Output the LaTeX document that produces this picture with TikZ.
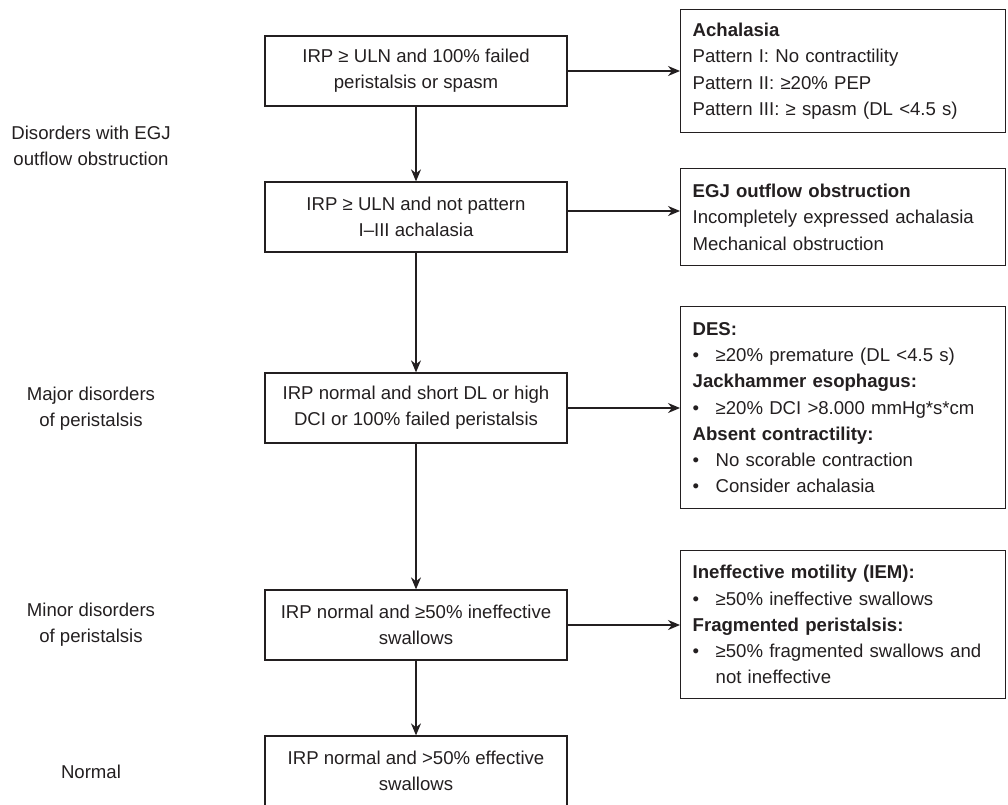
\documentclass[tikz,border=0pt]{standalone}
\usepackage{fontspec}
\setmainfont{Liberation Sans}
\usetikzlibrary{arrows.meta}
\definecolor{ink}{HTML}{231F20}
\newcommand{\bul}{\makebox[23pt][l]{•}}
\begin{document}
\begin{tikzpicture}[x=1pt,y=-1pt,
  every node/.style={text=ink, font=\fontsize{18.6}{26.3}\selectfont},
  lbox/.style={draw=ink, line width=1.3pt, minimum width=302pt, minimum height=70pt, align=center, inner sep=0pt},
  rbox/.style={draw=ink, line width=1.3pt, anchor=north west, minimum width=325pt, text width=301pt, inner xsep=12pt, inner ysep=0pt, align=left},
  lab/.style={align=center, inner sep=0pt},
  arr/.style={draw=ink, line width=1.3pt, -{Stealth[length=12pt,width=10pt]}}]
\clip (0,0) rectangle (1008,804);
% left labels
\node[lab] (t1) at (91,145.5) {Disorders with EGJ\\outflow obstruction};
\node[lab] (t2) at (91,408.5) {Major disorders\\of peristalsis};
\node[lab] (t3) at (91,625) {Minor disorders\\of peristalsis};
\node[lab] (t4) at (91,772) {Normal};
% left boxes
\node[lbox] (l1) at (416,71) {IRP ≥ ULN and 100\% failed\\peristalsis or spasm};
\node[lbox] (l2) at (416,217) {IRP ≥ ULN and not pattern\\I–III achalasia};
\node[lbox] (l3) at (416,408) {IRP normal and short DL or high\\DCI or 100\% failed peristalsis};
\node[lbox] (l4) at (416,625) {IRP normal and ≥50\% ineffective\\swallows};
\node[lbox] (l5) at (416,771) {IRP normal and >50\% effective\\swallows};
% right boxes
\node[rbox, minimum height=123pt] (r1) at (680,9) {\textbf{Achalasia}\\Pattern I: No contractility\\Pattern II: ≥20\% PEP\\Pattern III: ≥ spasm (DL <4.5 s)};
\node[rbox, minimum height=97pt] (r2) at (680,168) {\textbf{EGJ outflow obstruction}\\Incompletely expressed achalasia\\Mechanical obstruction};
\node[rbox, minimum height=202pt] (r3) at (680,306) {\textbf{DES:}\\\bul≥20\% premature (DL <4.5 s)\\\textbf{Jackhammer esophagus:}\\\bul≥20\% DCI >8.000 mmHg*s*cm\\\textbf{Absent contractility:}\\\bul No scorable contraction\\\bul Consider achalasia};
\node[rbox, minimum height=148pt] (r4) at (680,550) {\textbf{Ineffective motility (IEM):}\\\bul≥50\% ineffective swallows\\\textbf{Fragmented peristalsis:}\\\bul≥50\% fragmented swallows and\\\hspace*{23pt}not ineffective};
% connectors
\draw[arr] (l1) -- (l2);
\draw[arr] (l2) -- (l3);
\draw[arr] (l3) -- (l4);
\draw[arr] (l4) -- (l5);
\draw[arr] (l1.east) -- (l1.east -| r1.west);
\draw[arr] ([yshift=6pt]l2.east) -- ([yshift=6pt]l2.east -| r2.west);
\draw[arr] (l3.east) -- (l3.east -| r3.west);
\draw[arr] (l4.east) -- (l4.east -| r4.west);
\end{tikzpicture}
\end{document}
